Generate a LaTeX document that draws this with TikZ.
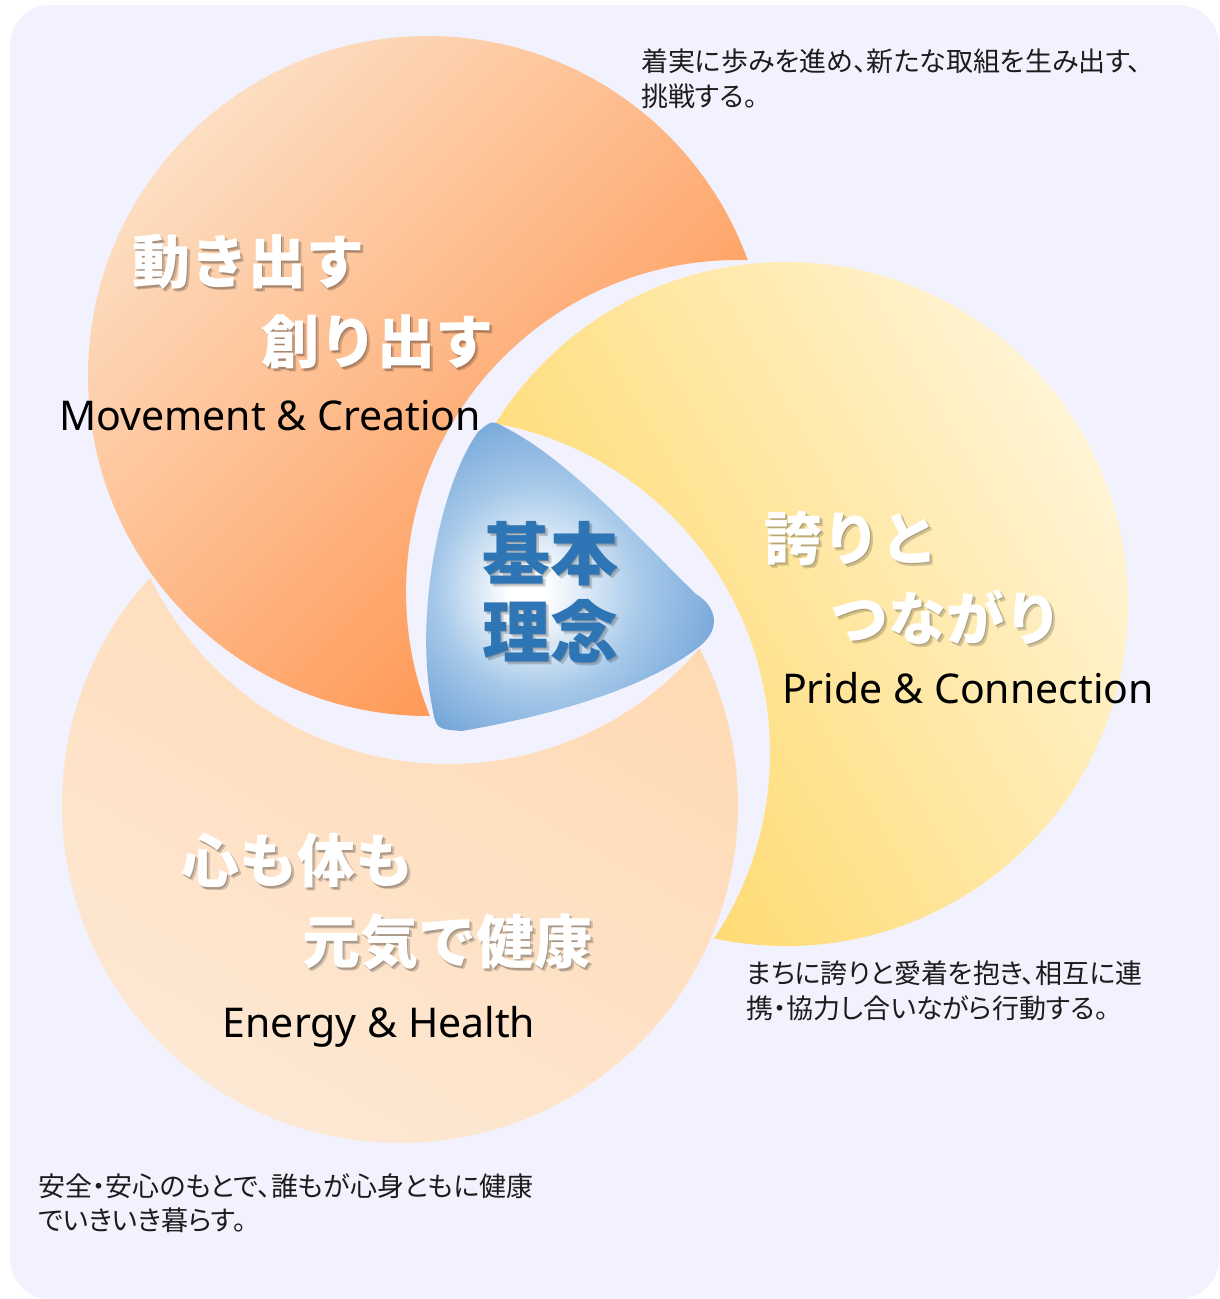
\documentclass[tikz,border=0pt]{standalone}
\usepackage{fontspec}
\setmainfont{Noto Sans}
\newfontfamily\jp{Noto Sans CJK JP}
\newfontfamily\jpnote{Noto Sans CJK JP}[RawFeature=+palt]
\definecolor{paper}{RGB}{242,242,254}
\definecolor{orlight}{RGB}{253,222,194}
\definecolor{ordeep}{RGB}{255,142,70}
\definecolor{ylpale}{RGB}{255,244,212}
\definecolor{ylgold}{RGB}{255,214,96}
\definecolor{pcdeep}{RGB}{255,216,176}
\definecolor{pclight}{RGB}{253,232,212}
\definecolor{coremid}{RGB}{165,200,233}
\definecolor{coreblue}{RGB}{96,152,210}
\definecolor{coreink}{RGB}{46,117,182}
\definecolor{noteink}{RGB}{28,28,28}
\pgfdeclareradialshading{coreglow}{\pgfpoint{-7bp}{-3bp}}{color(0bp)=(white); color(3bp)=(white); color(17bp)=(coremid); color(34bp)=(coreblue); color(50bp)=(coreblue)}
\def\shadowed#1#2#3#4{%
  \foreach \s in {1.5,3}
    \node[#1,text=black,opacity=.18,xshift=\s pt,yshift=-\s pt] at (#3) {#4};
  \node[#1] (#2) at (#3) {#4};}

\begin{document}
\begin{tikzpicture}[x=1pt,y=-1pt,
  bigjp/.style={font=\jp\bfseries\fontsize{58}{62}\selectfont,text=white,inner sep=0pt},
  entext/.style={font=\fontsize{41}{45}\selectfont,text=black,inner sep=0pt,anchor=base},
  note/.style={font=\jpnote\fontsize{27}{34.5}\selectfont,text=noteink,inner sep=0pt,align=left,anchor=north west},
  coretext/.style={font=\jp\bfseries\fontsize{68}{78}\selectfont,text=coreink,inner sep=0pt,align=center}]
  \useasboundingbox (0,0) rectangle (1219,1299);
  \fill[paper,rounded corners=40] (10,5) rectangle (1219,1299);

  \begin{scope}[even odd rule]
    \clip (0,0) rectangle (1219,1299) (738,592) circle[radius=332];
    \shade[top color=orlight,bottom color=ordeep,shading angle=45] (428,376) circle[radius=340];
  \end{scope}
  \begin{scope}[even odd rule]
    \clip (0,0) rectangle (1219,1299) (435,753) circle[radius=335];
    \shade[top color=ylpale,bottom color=ylgold,shading angle=-60] (786,604) circle[radius=342];
  \end{scope}
  \begin{scope}[even odd rule]
    \clip (0,0) rectangle (1219,1299) (448,433) circle[radius=331];
    \shade[top color=pcdeep,bottom color=pclight,shading angle=-30] (400,805) circle[radius=338];
  \end{scope}

  \shade[shading=coreglow] (478,432) .. controls (440,485) and (414,615) .. (432,706)
    .. controls (436,729) .. (462,731)
    .. controls (560,714) and (650,686) .. (700,646)
    .. controls (722,628) and (716,606) .. (696,594)
    .. controls (640,540) and (572,462) .. (506,428)
    .. controls (492,420) .. (478,432) -- cycle;
  \shadowed{coretext}{core}{550,592}{基本\\理念}

  \shadowed{bigjp}{act1}{248,262}{動き出す}
  \shadowed{bigjp}{act2}{377,342}{創り出す}
  \node[entext] (acten) at (270,430) {Movement \& Creation};

  \shadowed{bigjp}{pride1}{851,538}{誇りと}
  \shadowed{bigjp}{pride2}{946,617}{つながり}
  \node[entext] (prideen) at (968,703) {Pride \& Connection};

  \shadowed{bigjp}{health1}{297,861}{心も体も}
  \shadowed{bigjp}{health2}{447,942}{元気で健康}
  \node[entext] (healthen) at (379,1037) {Energy \& Health};

  \node[note] (noteact) at (641,49) {着実に歩みを進め、新たな取組を生み出す、\\挑戦する。};
  \node[note] (notepride) at (746,961) {まちに誇りと愛着を抱き、相互に連\\携・協力し合いながら行動する。};
  \node[note] (notehealth) at (38,1173) {安全・安心のもとで、誰もが心身ともに健康\\でいきいき暮らす。};
\end{tikzpicture}
\end{document}
